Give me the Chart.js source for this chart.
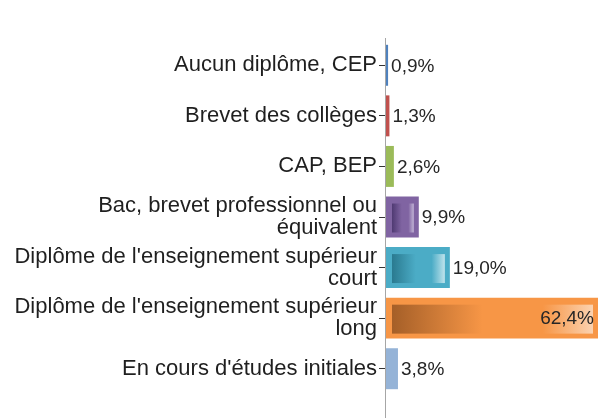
<!DOCTYPE html>
<html>
<head>
<meta charset="utf-8">
<script src="https://cdn.jsdelivr.net/npm/chart.js@4/dist/chart.umd.min.js"></script>
<style>
  html, body { margin: 0; padding: 0; background: #fff; }
  #wrap { width: 598px; height: 418px; position: relative; }
</style>
</head>
<body>
<div id="wrap"><canvas id="diplomeChart" width="598" height="418"></canvas></div>
<script>
const categories = [
    'Aucun diplôme, CEP',
    'Brevet des collèges',
    'CAP, BEP',
    ['Bac, brevet professionnel ou', 'équivalent'],
    ["Diplôme de l'enseignement supérieur", 'court'],
    ["Diplôme de l'enseignement supérieur", 'long'],
    "En cours d'études initiales"
];
const values = [0.9, 1.3, 2.6, 9.9, 19.0, 62.4, 3.8];
const barColors = ['#4F81BD', '#C0504D', '#9BBB59', '#8064A2', '#4BACC6', '#F79646', '#95B3D7'];
const shadeLeft = ['#2f5a8c', '#8c3432', '#6f8a3a', '#4f3a72', '#2a7a90', '#a55f28', '#6a8ab4'];
const shadeRight = ['#b8cce4', '#e6b9b8', '#d7e4bd', '#c2b4d6', '#bfe3ec', '#fbd2b0', '#dbe5f1'];

function fmt(v) {
    return v.toFixed(1).replace('.', ',') + '%';
}

// inner gradient panel + value labels
const barDecor = {
    id: 'barDecor',
    afterDatasetsDraw(chart) {
        const ctx = chart.ctx;
        const meta = chart.getDatasetMeta(0);
        const maxVal = Math.max(...values);
        meta.data.forEach(function(bar, i) {
            const h = bar.height;
            const left = Math.min(bar.base, bar.x);
            const right = Math.max(bar.base, bar.x);
            if (right - left > 20) {
                const x0 = left + 7, x1 = right - 5;
                const y0 = bar.y - h / 2 + 7, y1 = bar.y + h / 2 - 5;
                const g = ctx.createLinearGradient(x0, 0, x1, 0);
                g.addColorStop(0, shadeLeft[i]);
                g.addColorStop(0.45, barColors[i]);
                g.addColorStop(0.75, barColors[i]);
                g.addColorStop(1, shadeRight[i]);
                ctx.save();
                ctx.fillStyle = g;
                ctx.fillRect(x0, y0, x1 - x0, y1 - y0);
                ctx.restore();
            }
            ctx.save();
            ctx.font = '19px "Liberation Sans", Arial, sans-serif';
            ctx.fillStyle = '#262626';
            ctx.textBaseline = 'middle';
            if (values[i] === maxVal) {
                ctx.textAlign = 'right';
                ctx.fillText(fmt(values[i]), right - 4, bar.y + 1);
            } else {
                ctx.textAlign = 'left';
                ctx.fillText(fmt(values[i]), right + 3, bar.y + 1);
            }
            ctx.restore();
        });
    },
    afterDraw(chart) {
        const ctx = chart.ctx;
        const x = Math.round(chart.scales.x.left) + 0.5;
        ctx.save();
        ctx.strokeStyle = '#a6a6a6';
        ctx.lineWidth = 1;
        ctx.beginPath();
        ctx.moveTo(x, chart.chartArea.top - 2);
        ctx.lineTo(x, chart.height);
        ctx.stroke();
        ctx.restore();
    }
};

const ctx = document.getElementById('diplomeChart').getContext('2d');
const diplomeChart = new Chart(ctx, {
    type: 'bar',
    data: {
        labels: categories,
        datasets: [{
            data: values,
            backgroundColor: barColors,
            borderWidth: 0,
            categoryPercentage: 1,
            barPercentage: 0.81
        }]
    },
    options: {
        indexAxis: 'y',
        responsive: false,
        animation: false,
        layout: {
            padding: { top: 40, bottom: 24, left: 0, right: 0 }
        },
        plugins: {
            legend: { display: false },
            tooltip: { enabled: false }
        },
        scales: {
            x: {
                display: false,
                min: 0,
                max: Math.max(...values)
            },
            y: {
                afterFit: function(scale) { scale.width = 385; },
                grid: {
                    offset: false,
                    drawOnChartArea: false,
                    drawTicks: true,
                    tickLength: 6,
                    tickColor: '#333',
                    lineWidth: 1
                },
                border: { display: false },
                ticks: {
                    padding: 2,
                    color: '#1f1f1f',
                    font: { family: '"Liberation Sans", Arial, sans-serif', size: 22, lineHeight: 1.0 }
                }
            }
        }
    },
    plugins: [barDecor]
});
</script>
</body>
</html>
